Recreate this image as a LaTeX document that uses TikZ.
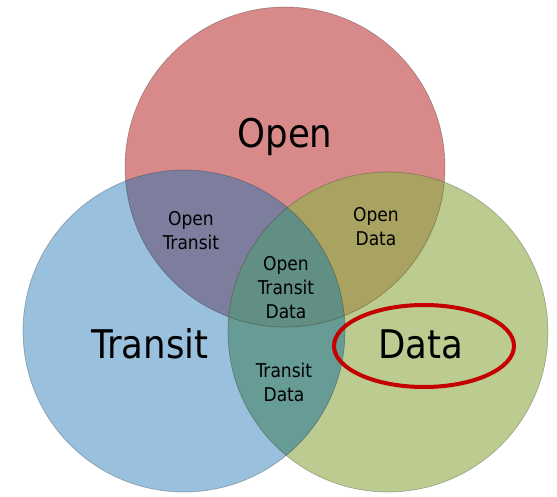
\documentclass[tikz,border=0pt]{standalone}
\usepackage{fontspec}
\setmainfont{DejaVu Sans Condensed}
\definecolor{cred}{RGB}{216,138,138}
\definecolor{cblue}{RGB}{153,192,221}
\definecolor{cgreen}{RGB}{188,204,145}
\definecolor{cpurple}{RGB}{125,126,158}
\definecolor{colive}{RGB}{170,162,96}
\definecolor{cteal}{RGB}{103,155,150}
\definecolor{ccenter}{RGB}{98,143,132}
\definecolor{cring}{RGB}{196,0,0}
\tikzset{
  big/.style={font=\fontsize{39.5}{46}\selectfont, text=black, inner sep=0pt},
  small/.style={font=\fontsize{19}{24}\selectfont, text=black, align=center, inner sep=0pt},
  rim/.style={draw=black, draw opacity=0.25, line width=0.7pt}
}
\begin{document}
\begin{tikzpicture}[x=1pt,y=-1pt]
\useasboundingbox (0,0) rectangle (557,496);
% base circles
\fill[cred]   (285,167) circle[radius=160pt];
\fill[cblue]  (184,331) circle[radius=161pt];
\fill[cgreen] (388,332) circle[radius=160pt];
% transit & data
\begin{scope}
  \clip (184,331) circle[radius=161pt];
  \fill[cteal] (388,332) circle[radius=160pt];
\end{scope}
% open & others
\begin{scope}
  \clip (285,167) circle[radius=160pt];
  \fill[cpurple] (184,331) circle[radius=161pt];
  \fill[colive]  (388,332) circle[radius=160pt];
  \clip (184,331) circle[radius=161pt];
  \fill[ccenter] (388,332) circle[radius=160pt];
\end{scope}
% rims
\draw[rim] (285,167) circle[radius=160pt];
\draw[rim] (184,331) circle[radius=161pt];
\draw[rim] (388,332) circle[radius=160pt];
% texts (base = baseline of last line)
\node[big, anchor=base] (open) at (285,147) {Open};
\node[big, anchor=base] (transit) at (150,358) {Transit};
\node[big, anchor=base] (data) at (421,358) {Data};
\node[small, anchor=base] (ot) at (191,249) {Open\\Transit};
\node[small, anchor=base] (od) at (376,245) {Open\\Data};
\node[small, anchor=base] (otd) at (286,318) {Open\\Transit\\Data};
\node[small, anchor=base] (td) at (284,401) {Transit\\Data};
% highlight ring
\draw[cring, line width=4pt] (424,346) ellipse[x radius=90pt, y radius=41pt];
\end{tikzpicture}
\end{document}
